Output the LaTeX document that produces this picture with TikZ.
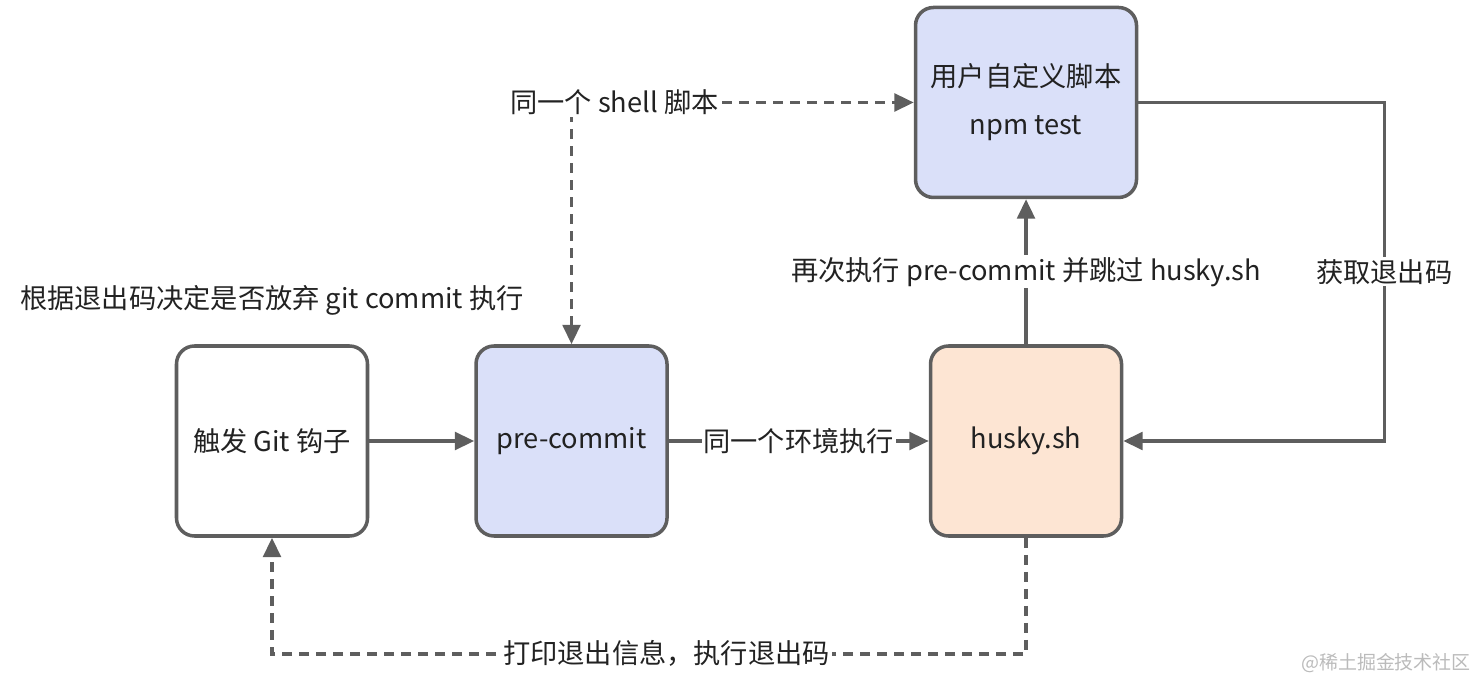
\documentclass[tikz,border=0pt]{standalone}
\usepackage{fontspec}
\setmainfont{Noto Sans CJK SC}
\usepackage{tikz}
\usetikzlibrary{arrows.meta, positioning}

\definecolor{linegray}{HTML}{5E5E5E}
\definecolor{txtgray}{HTML}{222222}
\definecolor{lavender}{HTML}{DAE0F9}
\definecolor{peach}{HTML}{FDE5D3}
\definecolor{markgray}{HTML}{BBBBBB}

\tikzset{
  box/.style={draw=linegray, line width=2pt, rounded corners=0.36cm,
    minimum width=3.82cm, minimum height=3.8cm, align=center,
    text=txtgray, font=\fontsize{15.5}{27.3}\selectfont},
  conn/.style={draw=linegray, line width=2pt, -{Triangle[length=11pt, width=10pt]}},
  dconn/.style={conn, dash pattern=on 0.2cm off 0.14cm},
  lbl/.style={fill=white, text=txtgray, inner sep=1pt,
    font=\fontsize{15.5}{18}\selectfont},
}

\begin{document}
\begin{tikzpicture}
  \useasboundingbox (-5.44,-4.8) rectangle (24.02,8.82);
  % Define nodes
  \node[box, fill=white] (trigger) {触发 Git 钩子};
  \node[box, fill=lavender, right=2.1cm of trigger] (precommit) {pre-commit};
  \node[box, fill=peach, right=5.2cm of precommit] (husky) {husky.sh};
  \node[box, fill=lavender, minimum width=4.42cm, above=2.9cm of husky]
    (userscript) {用户自定义脚本\\npm test};
  %--
  \node[lbl, above=0.53cm of trigger] (hint) {根据退出码决定是否放弃 git commit 执行};
  \node[text=markgray, font=\fontsize{10.8}{12}\selectfont] (wm) at (22.28,-4.44) {@稀土掘金技术社区};
  \coordinate (rt) at ([xshift=4.92cm]userscript.east);
  \coordinate (bot) at ([yshift=-2.32cm]husky.south);

  % Connect the nodes
  \draw[conn] (trigger) -- (precommit);
  \draw[conn] (precommit) -- node[lbl] {同一个环境执行} (husky);
  \draw[conn] (husky) -- node[lbl] {再次执行 pre-commit 并跳过 husky.sh} (userscript);
  \draw[conn] (userscript.east) -- (rt) |- node[lbl, pos=0.25] {获取退出码} (husky.east);
  \draw[dconn, {Triangle[length=11pt, width=10pt]}-{Triangle[length=11pt, width=10pt]}]
    (precommit.north) |-
    node[lbl, pos=0.5, xshift=0.86cm] {同一个 shell 脚本} (userscript.west);
  \draw[dconn] (husky.south) -- (bot) -|
    node[lbl, pos=0.25, xshift=0.35cm] {打印退出信息，执行退出码} (trigger.south);
\end{tikzpicture}
\end{document}
